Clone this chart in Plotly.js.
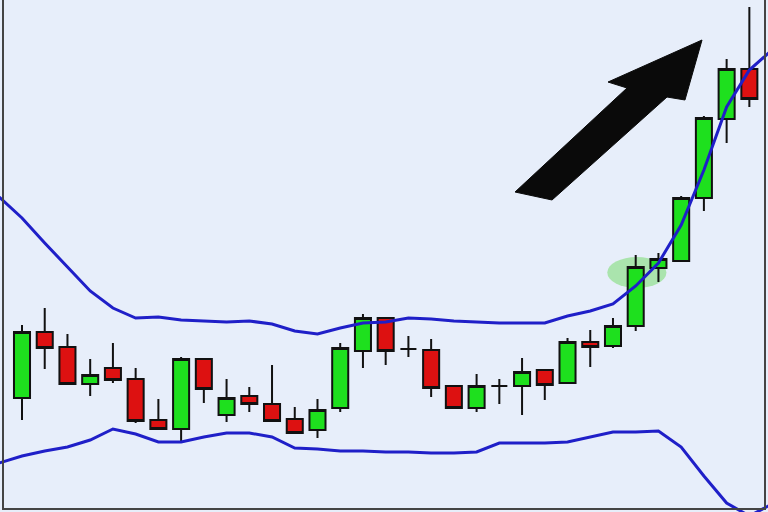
<!DOCTYPE html>
<html>
<head>
<meta charset="utf-8">
<script src="https://cdn.plot.ly/plotly-3.0.1.min.js"></script>
<style>
  html, body { margin: 0; padding: 0; background: #e7eefa; }
  #chart { width: 768px; height: 512px; }
</style>
</head>
<body>
<div id="chart"></div>
<script>
// Candle index (session number)
const sessions = [1,2,3,4,5,6,7,8,9,10,11,12,13,14,15,16,17,18,19,20,21,22,23,24,25,26,27,28,29,30,31,32,33];
const openPrices  = [114,180,165,128,144,133,92,83,153,97,116,108,93,82,104,161,194,163,162,126,104,126,126,142,129,170,166,186,244,251,314,393,443];
const highPrices  = [187,204,178,153,169,144,113,155,153,133,125,147,105,113,169,198,194,176,173,127,138,133,154,143,174,182,194,257,259,316,396,453,505];
const lowPrices   = [92,143,128,116,129,89,82,69,109,90,100,91,79,74,100,144,147,155,115,103,100,108,97,112,129,145,164,181,230,251,301,369,405];
const closePrices = [180,164,128,137,132,91,83,153,123,114,108,91,79,102,164,194,161,163,124,104,126,126,140,127,170,165,186,245,253,314,394,443,413];

// Bollinger bands
const bandX     = [0,1,2,3,4,5,6,7,8,9,10,11,12,13,14,15,16,17,18,19,20,21,22,23,24,25,26,27,28,29,30,31,32,33,34];
const upperBand = [315,294,269,245,221,204,194,195,192,191,190,191,188,181,178,184,189,190,194,193,191,190,189,189,189,196,201,208,226,249,287,342,405,442,462];
const lowerBand = [49,56,61,65,72,83,78,70,70,75,79,79,75,64,63,61,61,60,60,59,59,60,69,69,69,70,75,80,80,81,65,36,9,-4,8];

const highlightIndex = 28;

const W = 768, H = 512;
const P = (px, py) => (px / W).toFixed(4) + ',' + (1 - py / H).toFixed(4);

const arrowPath = 'M ' + P(515,192) + ' L ' + P(552,200) + ' L ' + P(667,97) + ' L ' + P(685,100) +
  ' L ' + P(702,40) + ' L ' + P(608,82) + ' L ' + P(627,88) + ' Z';

const hi = highlightIndex - 1;

const traces = [
  {
    type: 'scatter', mode: 'lines', x: bandX, y: upperBand,
    line: { color: '#1f1fc8', width: 3 }, hoverinfo: 'skip', showlegend: false
  },
  {
    type: 'scatter', mode: 'lines', x: bandX, y: lowerBand,
    line: { color: '#1f1fc8', width: 3 }, hoverinfo: 'skip', showlegend: false
  },
  {
    type: 'candlestick', x: sessions,
    open: openPrices, high: highPrices, low: lowPrices, close: closePrices,
    increasing: { line: { color: '#111111', width: 2 }, fillcolor: '#1ee01e' },
    decreasing: { line: { color: '#111111', width: 2 }, fillcolor: '#dd1111' },
    whiskerwidth: 0, showlegend: false
  }
];

const layout = {
  width: W, height: H,
  margin: { l: 0, r: 0, t: 0, b: 0 },
  paper_bgcolor: '#e7eefa',
  plot_bgcolor: '#e7eefa',
  showlegend: false,
  boxgap: 0.16,
  boxgroupgap: 0.16,
  xaxis: {
    range: [0.032, 33.82], visible: false, showgrid: false, zeroline: false,
    rangeslider: { visible: false }, fixedrange: true
  },
  yaxis: {
    range: [0, 512], visible: false, showgrid: false, zeroline: false, fixedrange: true
  },
  shapes: [
    {
      type: 'circle', xref: 'x', yref: 'y', layer: 'below',
      x0: sessions[hi] - 1.25, x1: sessions[hi] + 1.35,
      y0: closePrices[hi] - 21, y1: closePrices[hi] + 10,
      fillcolor: 'rgba(120,220,110,0.55)', line: { width: 0 }
    },
    {
      type: 'path', xref: 'paper', yref: 'paper', layer: 'above',
      path: arrowPath, fillcolor: '#0a0a0a', line: { color: '#0a0a0a', width: 1 }
    },
    {
      type: 'line', xref: 'paper', yref: 'paper', x0: 3/W, x1: 3/W, y0: 1, y1: 1 - 510/H,
      line: { color: '#444444', width: 2 }
    },
    {
      type: 'line', xref: 'paper', yref: 'paper', x0: 3/W, x1: 766/W, y0: 1 - 509/H, y1: 1 - 509/H,
      line: { color: '#444444', width: 2 }
    },
    {
      type: 'line', xref: 'paper', yref: 'paper', x0: 765/W, x1: 765/W, y0: 1, y1: 1 - 510/H,
      line: { color: '#444444', width: 2 }
    }
  ]
};

Plotly.newPlot('chart', traces, layout, { displayModeBar: false, staticPlot: true });
</script>
</body>
</html>
